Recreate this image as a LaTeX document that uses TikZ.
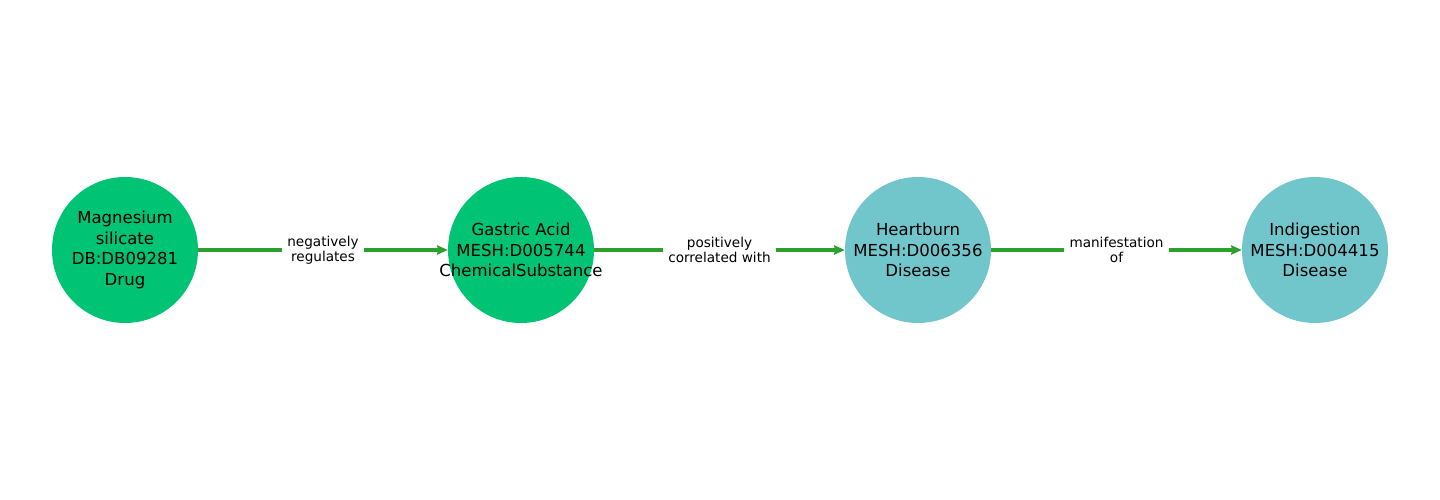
\documentclass[tikz,border=0pt]{standalone}
\usepackage{fontspec}
\setmainfont{DejaVu Sans}
\usetikzlibrary{arrows.meta}
\definecolor{drugc}{HTML}{00C374}
\definecolor{disc}{HTML}{71C6CB}
\definecolor{edgec}{HTML}{2CA02C}
\tikzset{
  ent/.style={circle, minimum size=109.5pt, inner sep=0pt},
  entlab/.style={align=center, font=\fontsize{12.4}{15.4}\selectfont, text=black},
  edgelab/.style={fill=white, inner xsep=4pt, inner ysep=1pt, align=center,
    font=\fontsize{10.2}{11.25}\selectfont},
  rel/.style={draw=edgec, line width=2.5pt, -{Stealth[length=8pt,width=7pt,inset=1pt]}}
}
\begin{document}
\begin{tikzpicture}[x=0.75pt,y=-0.75pt]
\useasboundingbox (0,0) rectangle (1440,500);
\node[ent, fill=drugc] (a) at (125,250) {};
\node[ent, fill=drugc] (b) at (521,250) {};
\node[ent, fill=disc] (c) at (918,250) {};
\node[ent, fill=disc] (d) at (1315,250) {};
\node[entlab] (ta) at (a.center) {Magnesium\\silicate\\DB:DB09281\\Drug};
\node[entlab] (tb) at (b.center) {Gastric Acid\\MESH:D005744\\ChemicalSubstance};
\node[entlab] (tc) at (c.center) {Heartburn\\MESH:D006356\\Disease};
\node[entlab] (td) at (d.center) {Indigestion\\MESH:D004415\\Disease};
\draw[rel] (a) -- node[edgelab] (l1) {negatively\\regulates} (b);
\draw[rel] (b) -- node[edgelab] (l2) {positively\\correlated with} (c);
\draw[rel] (c) -- node[edgelab] (l3) {manifestation\\of} (d);
\end{tikzpicture}
\end{document}
